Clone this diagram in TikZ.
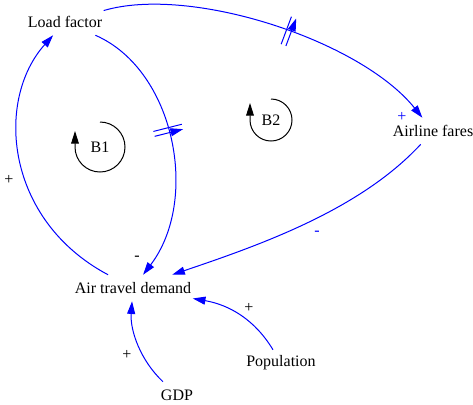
\documentclass[tikz,border=0pt]{standalone}
\usepackage{fontspec}
\setmainfont{Liberation Serif}
\usepackage{tikz}
\usetikzlibrary{arrows.meta, calc, decorations.markings}
\definecolor{linkblue}{RGB}{0,0,255}

\tikzset{
  var/.style={font=\rmfamily\fontsize{12}{14}\selectfont, inner xsep=1pt, inner ysep=0pt, minimum height=19.5pt},
  pol/.style={font=\rmfamily\fontsize{12}{14}\selectfont, inner sep=0pt},
  link/.style={draw=linkblue, line width=0.75pt, -{Triangle[length=9.5pt, width=6pt]}},
  loopline/.style={draw=black, line width=0.75pt, -{Triangle[length=9.5pt, width=5.8pt]}},
  delay/.style={postaction={decorate}, decoration={markings,
      mark=at position #1 with {\draw[linkblue, line width=0.75pt] (-1.9pt,-11pt) -- (-1.9pt,11pt) (1.9pt,-11pt) -- (1.9pt,11pt);}}}
}

\begin{document}
\begin{tikzpicture}[x=0.75pt, y=-0.75pt]
  \useasboundingbox (0,0) rectangle (473,404);

  % Variables
  \node[var] (lf) at (65,22) {Load factor};
  \node[var] (af) at (433,131) {Airline fares};
  \node[var] (atd) at (133,288) {Air travel demand};
  \node[var] (pop) at (281,363) {Population};
  \node[var] (gdp) at (177,395) {GDP};

  % Loop markers
  \node[var] (b1) at (100,147) {B1};
  \node[var] (b2) at (271,120) {B2};
  \draw[loopline] ($(b1)+(0,-25)$) arc[start angle=-90, end angle=180, radius=25] -- ++(0,-16);
  \draw[loopline] ($(b2)+(0,-21)$) arc[start angle=-90, end angle=180, radius=21] -- ++(0,-17);

  % Links
  \draw[link, delay=0.54] (lf) .. controls (190,-15) and (360,40) .. (af);
  \draw[link, delay=0.45] (lf) .. controls (175,70) and (200,200) .. (atd);
  \draw[link] (atd) .. controls (5,220) and (-5,100) .. (lf);
  \draw[link] (af) .. controls (360,210) and (260,245) .. (atd);
  \draw[link] (pop) .. controls (255,320) and (230,305) .. (atd);
  \draw[link] (gdp) .. controls (140,360) and (130,330) .. (atd);

  % Polarities
  \node[pol] (s1) at (9,180) {+};
  \node[pol] (s2) at (137,258) {-};
  \node[pol, text=linkblue] (s3) at (402,117) {+};
  \node[pol, text=linkblue] (s4) at (317,233) {-};
  \node[pol] (s5) at (249,308) {+};
  \node[pol] (s6) at (127,355) {+};
\end{tikzpicture}
\end{document}
